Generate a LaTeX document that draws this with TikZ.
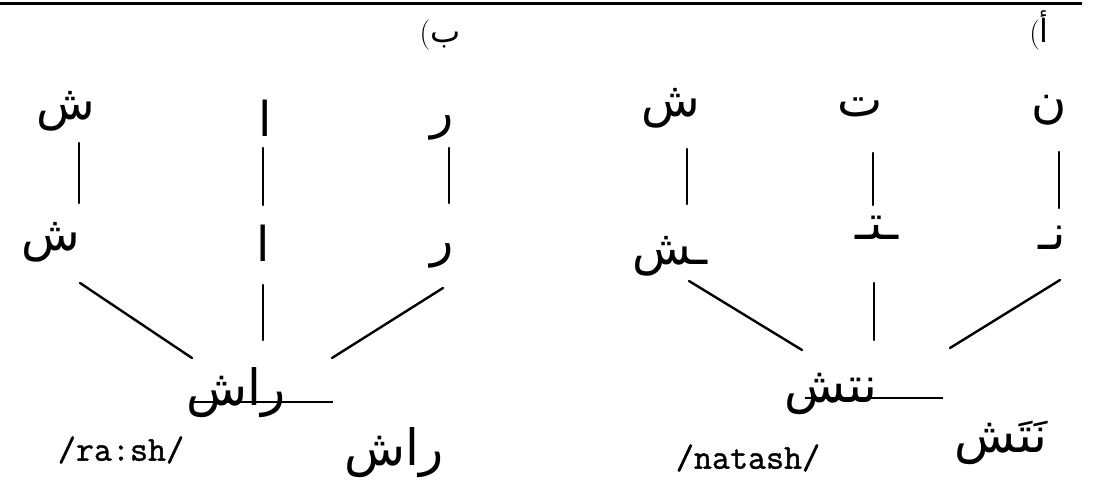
\documentclass[tikz,border=0pt]{standalone}
\usepackage{fontspec}
\usetikzlibrary{calc}
\newfontfamily\arabicfont[Script=Arabic]{DejaVu Sans}
\newfontfamily\transfont[FakeBold=1.2]{Latin Modern Mono}
\TeXXeTstate=1
\tikzset{
  ar/.style={font=\arabicfont\fontsize{48}{52}\selectfont, inner sep=0pt},
  arw/.style={font=\arabicfont\fontsize{50}{54}\selectfont, inner sep=0pt},
  lab/.style={font=\arabicfont\fontsize{32}{36}\selectfont, inner sep=0pt},
  trans/.style={font=\transfont\fontsize{35}{38}\selectfont, inner sep=0pt},
  conn/.style={line width=2.4pt, line cap=round},
}
\begin{document}
\begin{tikzpicture}[x=1pt,y=-1pt]
\useasboundingbox (0,0) rectangle (1093,492);
\draw[line width=3pt] (0,4) -- (1082,4);

% ---------- panel (a) ----------
\node[lab] (labA) at (1039,30) {{\rmfamily\fontsize{30}{32}\selectfont(}أ};
\node[ar] (tS) at (671,108) {\beginR ش\endR};
\node[ar] (tT) at (860,107) {\beginR ت\endR};
\node[ar] (tN) at (1049,110) {\beginR ن\endR};
\node[ar] (mS) at (670,256) {\beginR ـش\endR};
\node[ar] (mT) at (877,228) {\beginR ـتـ\endR};
\node[ar] (mN) at (1052,238) {\beginR نـ\endR};
\node[arw] (wR) at (831,394) {\beginR نتش\endR};
\node[arw] (vR) at (1001,443) {\beginR نَتَش\endR};
\node[trans] (trR) at (748,458) {/natash/};

\draw[conn] ($(tS)+(16,41)$) -- ($(mS)+(17,-52)$);
\draw[conn] ($(tT)+(13,46)$) -- ($(mT)+(-4,-23)$);
\draw[conn] ($(tN)+(10,42)$) -- ($(mN)+(7,-30)$);
\draw[conn] ($(mT)+(-3,55)$) -- ($(wR)+(43,-54)$);
\draw[conn] ($(mS)+(19,25)$) -- ($(wR)+(-29,-44)$);
\draw[conn] ($(mN)+(8,42)$) -- ($(wR)+(119,-46)$);
\draw[line width=2pt] ($(wR)+(-26,4)$) -- ($(wR)+(112,4)$);

% ---------- panel (b) ----------
\node[lab] (labB) at (440,35) {{\rmfamily\fontsize{30}{32}\selectfont(}ب};
\node[ar] (lS) at (66,111) {\beginR ش\endR};
\node[ar] (lA) at (265,118) {\beginR ا\endR};
\node[ar] (lR) at (442,128) {\beginR ر\endR};
\node[ar] (nS) at (51,242) {\beginR ش\endR};
\node[ar] (nA) at (263,243) {\beginR ا\endR};
\node[ar] (nR) at (442,256) {\beginR ر\endR};
\node[arw] (wL) at (236,393) {\beginR راش\endR};
\node[arw] (vL) at (394,453) {\beginR راش\endR};
\node[trans] (trL) at (121,450) {/ra:sh/};

\draw[conn] ($(lS)+(13,32)$) -- ($(nS)+(28,-39)$);
\draw[conn] ($(lA)+(-2,30)$) -- ($(nA)+(0,-38)$);
\draw[conn] ($(lR)+(7,20)$) -- ($(nR)+(7,-53)$);
\draw[conn] ($(nA)+(0,42)$) -- ($(wL)+(27,-53)$);
\draw[conn] ($(nS)+(29,41)$) -- ($(wL)+(-44,-35)$);
\draw[conn] ($(nR)+(1,32)$) -- ($(wL)+(96,-35)$);
\draw[line width=2pt] ($(wL)+(-46,9)$) -- ($(wL)+(97,9)$);
\end{tikzpicture}
\end{document}
